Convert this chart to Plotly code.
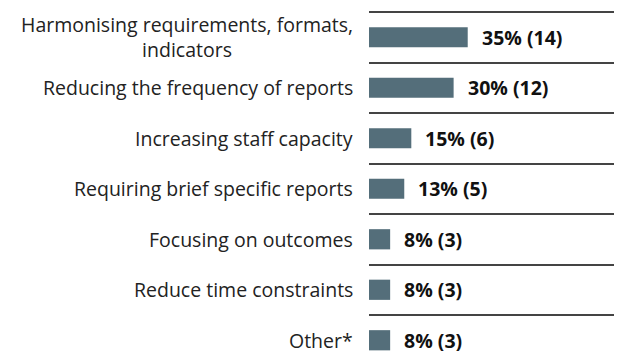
import plotly.graph_objects as go

categories = [
    "Harmonising requirements, formats,<br>indicators",
    "Reducing the frequency of reports",
    "Increasing staff capacity",
    "Requiring brief specific reports",
    "Focusing on outcomes",
    "Reduce time constraints",
    "Other*",
]
percent = [35, 30, 15, 12.5, 7.5, 7.5, 7.5]
counts = [14, 12, 6, 5, 3, 3, 3]
value_labels = ["35% (14)", "30% (12)", "15% (6)", "13% (5)", "8% (3)", "8% (3)", "8% (3)"]

BAR_COLOR = "#546e7a"
FONT = "Open Sans"
FS = 19.5

fig = go.Figure()
fig.add_trace(go.Bar(
    x=percent,
    y=categories,
    orientation="h",
    width=0.4,
    marker=dict(color=BAR_COLOR, line=dict(width=0)),
    hoverinfo="skip",
))

annotations = []
for cat, val, lab in zip(categories, percent, value_labels):
    annotations.append(dict(
        x=val, y=cat, xref="x", yref="y",
        text="<b>" + lab + "</b>",
        showarrow=False, xanchor="left", yanchor="middle",
        xshift=12,
        font=dict(family=FONT, size=FS, color="#111111"),
    ))
    annotations.append(dict(
        x=0, y=cat, xref="x", yref="y",
        text=cat,
        showarrow=False, xanchor="right", yanchor="middle",
        align="center",
        xshift=-14,
        font=dict(family=FONT, size=FS, color="#222222"),
    ))

fig.update_layout(
    width=622, height=351,
    margin=dict(l=361, r=8, t=2, b=0),
    paper_bgcolor="white", plot_bgcolor="white",
    showlegend=False,
    annotations=annotations,
    xaxis=dict(range=[0, 89.7], showgrid=False, zeroline=False,
               showticklabels=False, showline=False, ticks=""),
    yaxis=dict(type="category", range=[6.371, -0.54], tickson="boundaries",
               showgrid=True, gridcolor="#444444", gridwidth=1.5,
               showticklabels=False, ticks="", showline=False, zeroline=False),
)

fig.write_html("out.html")
